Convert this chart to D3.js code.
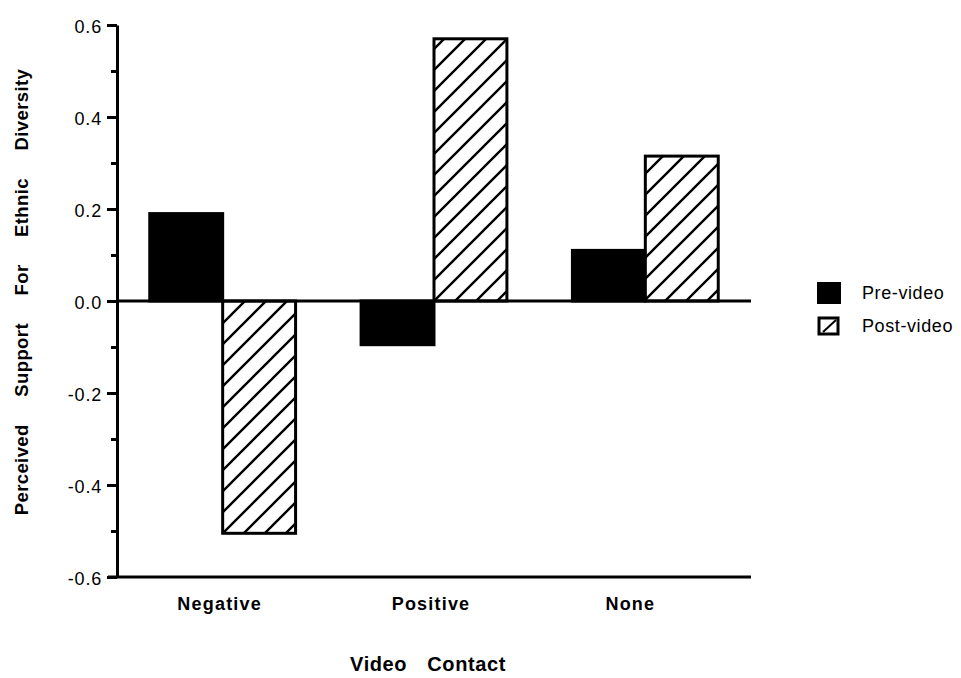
<!DOCTYPE html>
<html>
<head>
<meta charset="utf-8">
<script src="https://cdn.jsdelivr.net/npm/d3@7"></script>
<style>
  html, body { margin: 0; padding: 0; background: #fff; }
  svg { display: block; font-family: "Liberation Sans", Arial, Helvetica, sans-serif; }
</style>
</head>
<body>
<svg id="chart" width="961" height="678"></svg>
<script>
// ---- data ----
const categories = ["Negative", "Positive", "None"];
const seriesNames = ["Pre-video", "Post-video"];
const preVideo = [0.19, -0.095, 0.11];
const postVideo = [-0.505, 0.57, 0.315];
const yMajorTicks = [-0.6, -0.4, -0.2, 0.0, 0.2, 0.4, 0.6];
const yMajorLabels = ["-0.6", "-0.4", "-0.2", "0.0", "0.2", "0.4", "0.6"];
const yMinorTicks = [-0.5, -0.3, -0.1, 0.1, 0.3, 0.5];
const xTitle = "Video Contact";
const yTitle = "Perceived Support For Ethnic Diversity";

// ---- layout ----
const svg = d3.select("#chart");
const pLeft = 117, pRight = 751, pTop = 25, pBottom = 577;

const y = d3.scaleLinear().domain([-0.6, 0.6]).range([pBottom, pTop]);
const x0 = d3.scaleBand().domain(categories).range([pLeft, pRight])
  .paddingInner(0.31).paddingOuter(0.155);
const x1 = d3.scaleBand().domain(seriesNames).range([0, x0.bandwidth()]);

// hatch pattern
const defs = svg.append("defs");
const pat = defs.append("pattern").attr("id", "hatch")
  .attr("patternUnits", "userSpaceOnUse").attr("width", 21).attr("height", 21);
pat.append("rect").attr("width", 21).attr("height", 21).attr("fill", "#fff");
pat.append("path").attr("d", "M-3,24 L24,-3 M-3,3 L3,-3 M18,24 L24,18")
  .attr("stroke", "#000").attr("stroke-width", 2.4);

const rows = categories.map((c, i) => ({ cat: c, values: [preVideo[i], postVideo[i]] }));

// bars
const g = svg.append("g");
rows.forEach(r => {
  r.values.forEach((v, j) => {
    const s = seriesNames[j];
    g.append("rect")
      .attr("x", x0(r.cat) + x1(s))
      .attr("y", y(Math.max(0, v)))
      .attr("width", x1.bandwidth())
      .attr("height", Math.abs(y(v) - y(0)))
      .attr("fill", j === 0 ? "#000" : "url(#hatch)")
      .attr("stroke", "#000")
      .attr("stroke-width", 3);
  });
});

// zero line
svg.append("line")
  .attr("x1", pLeft).attr("x2", pRight)
  .attr("y1", y(0)).attr("y2", y(0))
  .attr("stroke", "#000").attr("stroke-width", 3);

// y axis: minor ticks
const yMinor = svg.append("g").attr("transform", `translate(${pLeft},0)`)
  .call(d3.axisLeft(y).tickValues(yMinorTicks).tickSize(6).tickFormat(""));
yMinor.select(".domain").remove();
yMinor.selectAll(".tick line").attr("stroke-width", 3);

// y axis: major ticks
const yAx = svg.append("g").attr("transform", `translate(${pLeft},0)`)
  .call(d3.axisLeft(y).tickValues(yMajorTicks).tickSize(10).tickSizeOuter(0)
    .tickPadding(5)
    .tickFormat((d, i) => yMajorLabels[i]));
yAx.select(".domain").attr("stroke-width", 3);
yAx.selectAll(".tick line").attr("stroke-width", 3);
yAx.selectAll(".tick text")
  .attr("font-size", 18).attr("letter-spacing", 0.8)
  .attr("font-family", "Liberation Sans, Arial, sans-serif")
  .attr("fill", "#000").attr("dy", "0.42em");

// x axis
const xAx = svg.append("g").attr("transform", `translate(0,${pBottom})`)
  .call(d3.axisBottom(x0).tickSize(0).tickSizeOuter(0).tickPadding(20));
xAx.select(".domain").attr("stroke-width", 3).attr("d", `M${pLeft - 9},0H${pRight}`);
xAx.selectAll(".tick text")
  .attr("font-size", 18).attr("font-weight", "bold").attr("letter-spacing", 1.2)
  .attr("font-family", "Liberation Sans, Arial, sans-serif")
  .attr("fill", "#000")
  .attr("dx", (d, i) => i === 2 ? -15 : -3);

// axis titles
svg.append("text")
  .attr("x", 428).attr("y", 671)
  .attr("text-anchor", "middle")
  .attr("font-size", 20).attr("font-weight", "bold")
  .attr("letter-spacing", 0.6).attr("word-spacing", 14)
  .text(xTitle);

svg.append("text")
  .attr("transform", "translate(28,292) rotate(-90)")
  .attr("text-anchor", "middle")
  .attr("font-size", 18.5).attr("font-weight", "bold")
  .attr("letter-spacing", 0.4).attr("word-spacing", 22)
  .text(yTitle);

// legend
const lg = svg.append("g");
const legendY = [293, 326];
seriesNames.forEach((s, i) => {
  if (i === 0) {
    lg.append("rect").attr("x", 817).attr("y", legendY[i] - 11)
      .attr("width", 24).attr("height", 22).attr("fill", "#000");
  } else {
    lg.append("rect").attr("x", 819).attr("y", legendY[i] - 8)
      .attr("width", 19).attr("height", 16)
      .attr("fill", "#fff").attr("stroke", "#000").attr("stroke-width", 3);
    lg.append("line").attr("x1", 823).attr("y1", legendY[i] + 6)
      .attr("x2", 836).attr("y2", legendY[i] - 6)
      .attr("stroke", "#000").attr("stroke-width", 2);
  }
  lg.append("text").attr("x", 862).attr("y", legendY[i])
    .attr("dy", "0.36em")
    .attr("font-size", 18).attr("letter-spacing", 0.6)
    .text(s);
});
</script>
</body>
</html>
